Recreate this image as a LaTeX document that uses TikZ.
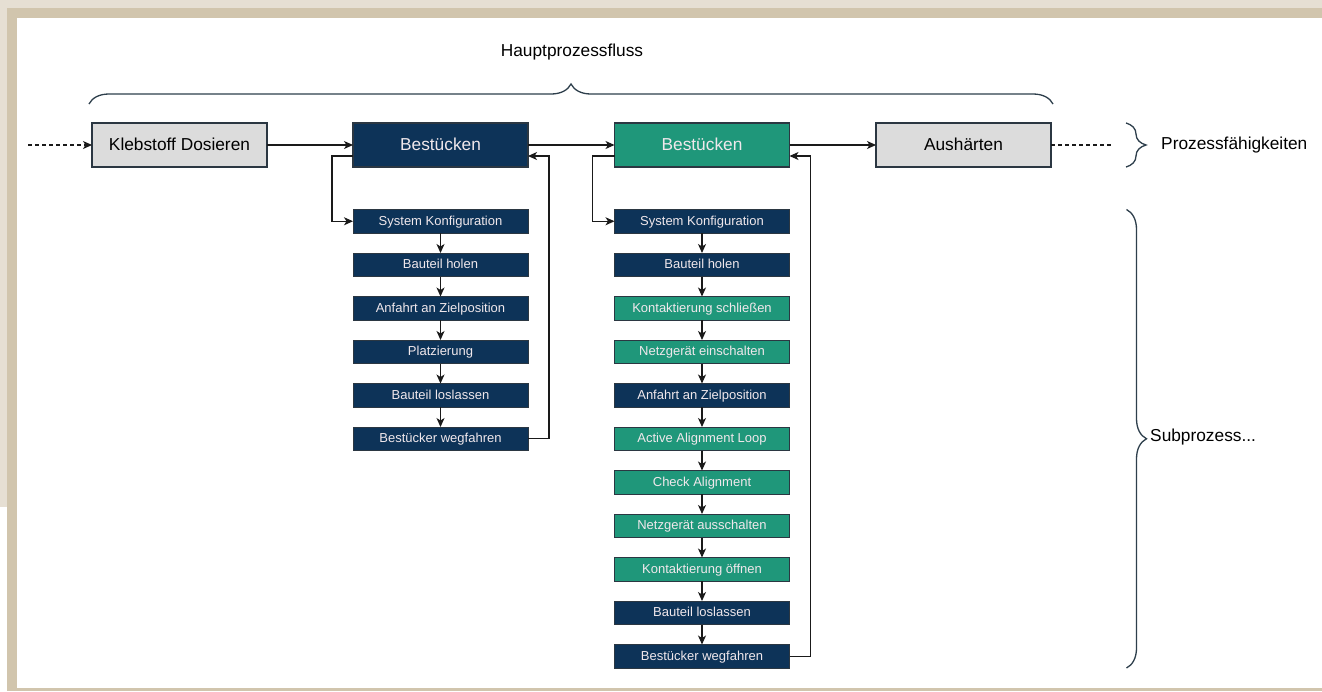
\documentclass[tikz,border=0pt]{standalone}
\usepackage{fontspec}
\setmainfont{Liberation Sans}
\usepackage{xcolor}
\usetikzlibrary{matrix,positioning,arrows.meta,decorations.pathreplacing}

\definecolor{navyblue}{HTML}{0D3358}
\definecolor{tealgreen}{HTML}{1F977A}
\definecolor{lightgray}{HTML}{DCDCDC}
\definecolor{boxline}{HTML}{2B3742}
\definecolor{linecol}{HTML}{1A1A1A}
\definecolor{bracecol}{HTML}{2E3F4C}
\definecolor{boxtext}{HTML}{F0E8EC}
\definecolor{framelight}{HTML}{E6DFD3}
\definecolor{framedark}{HTML}{D1C5AD}

\tikzset{
  bigfont/.style={font=\fontsize{17.3}{20}\selectfont},
  mainbox/.style={draw=boxline,line width=1.2pt,minimum width=175pt,minimum height=44pt,inner sep=0pt,outer sep=0pt,text height=12.5pt,text depth=2.5pt,bigfont},
  graybox/.style={mainbox,fill=lightgray,text=black},
  navybox/.style={mainbox,fill=navyblue,text=boxtext},
  greenbox/.style={mainbox,fill=tealgreen,text=boxtext},
  subbox/.style={draw=boxline,line width=1pt,fill=navyblue,text=boxtext,minimum width=175pt,minimum height=23.5pt,inner sep=0pt,outer sep=0pt,text height=9.3pt,text depth=1.5pt,font=\fontsize{13}{15}\selectfont},
  subgreen/.style={fill=tealgreen},
  arr/.style={draw=linecol,line width=1.2pt,-{Stealth[length=9pt,width=8pt,inset=2.5pt]}},
  dotline/.style={draw=linecol,line width=1.2pt,dash pattern=on 4pt off 3pt},
  brace/.style={draw=bracecol,line width=1.3pt,decorate,decoration={brace,amplitude=20pt}}
}

\begin{document}
\begin{tikzpicture}[x=1pt,y=-1pt]
% frame
\fill[white] (0,0) rectangle (1322,691);
\fill[framelight] (0,0) rectangle (1322,8);
\fill[framelight] (0,0) rectangle (7,507);
\fill[framedark] (7,8) rectangle (1322,18);
\fill[framedark] (7,8) rectangle (17,691);
\fill[framedark] (7,688) rectangle (1322,691);

% main process
\node[graybox] (kleb) at (179.5,145) {Klebstoff Dosieren};
\node[navybox,right=86pt of kleb] (best1) {Bestücken};
\node[greenbox,right=86.5pt of best1] (best2) {Bestücken};
\node[graybox,right=86.5pt of best2] (aush) {Aushärten};

\coordinate (in) at (28,145);
\coordinate (out) at ([xshift=62pt]aush.east);
\draw[dotline,-{Stealth[length=9pt,width=8pt,inset=2.5pt]}] (in) -- (kleb);
\draw[dotline] (aush) -- (out);
\draw[arr] (kleb) -- (best1);
\draw[arr] (best1) -- (best2);
\draw[arr] (best2) -- (aush);

% sub processes
\matrix (L) [matrix of nodes,below=42pt of best1,inner sep=0pt,outer sep=0pt,row sep=19pt,nodes={subbox}]{
System Konfiguration \\
Bauteil holen \\
Anfahrt an Zielposition \\
Platzierung \\
Bauteil loslassen \\
Bestücker wegfahren \\
};
\matrix (R) [matrix of nodes,below=42pt of best2,inner sep=0pt,outer sep=0pt,row sep=19pt,nodes={subbox}]{
System Konfiguration \\
Bauteil holen \\
|[subgreen]| Kontaktierung schließen \\
|[subgreen]| Netzgerät einschalten \\
Anfahrt an Zielposition \\
|[subgreen]| Active Alignment Loop \\
|[subgreen]| Check Alignment \\
|[subgreen]| Netzgerät ausschalten \\
|[subgreen]| Kontaktierung öffnen \\
Bauteil loslassen \\
Bestücker wegfahren \\
};

\foreach \i [count=\j from 2] in {1,...,5}
  \draw[arr] (L-\i-1) -- (L-\j-1);
\foreach \i [count=\j from 2] in {1,...,10}
  \draw[arr] (R-\i-1) -- (R-\j-1);

\draw[arr] ([yshift=-11pt]best1.west) -- ++(-21,0) |- (L-1-1.west);
\draw[arr] (L-6-1.east) -- ++(21,0) |- ([yshift=-11pt]best1.east);
\draw[arr] ([yshift=-11pt]best2.west) -- ++(-22,0) |- (R-1-1.west);
\draw[arr] (R-11-1.east) -- ++(21,0) |- ([yshift=-11pt]best2.east);

% braces and labels
\draw[brace] ([xshift=-3pt,yshift=19pt]kleb.north west) -- ([xshift=2pt,yshift=19pt]aush.north east);
\draw[brace] ([xshift=75pt]aush.north east) -- ([xshift=75pt]aush.south east);
\draw[brace] ([xshift=337pt]R-1-1.north east) -- ([xshift=337pt]R-11-1.south east);

\node[bigfont] (title) at (572,52) {Hauptprozessfluss};
\node[bigfont,anchor=west,inner sep=0pt] (cap) at (1161,145) {Prozessfähigkeiten};
\node[bigfont,anchor=west,inner sep=0pt] (sub) at (1150,437) {Subprozess...};
\end{tikzpicture}
\end{document}
